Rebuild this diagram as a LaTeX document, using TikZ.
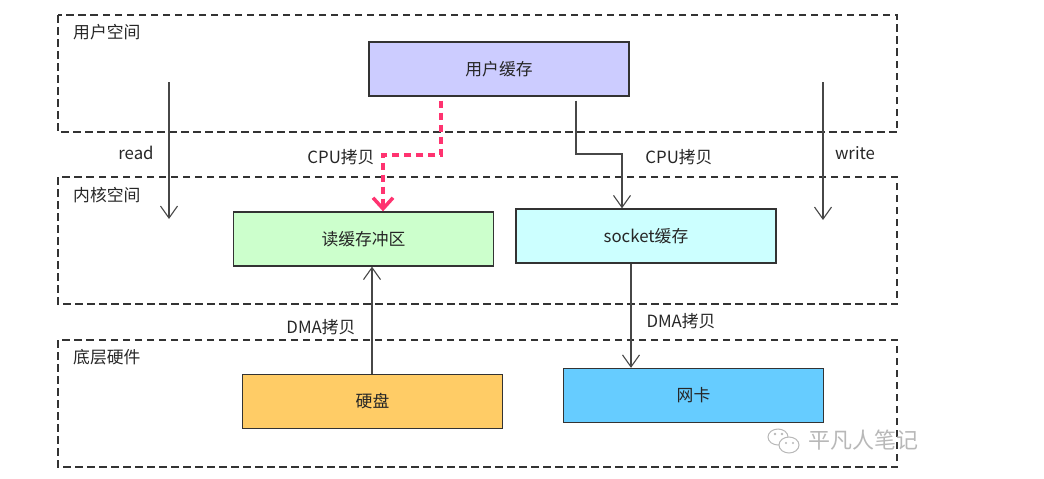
\documentclass[tikz,border=0pt]{standalone}
\usepackage{fontspec}
\setmainfont{Noto Sans CJK SC}
\usetikzlibrary{arrows.meta,calc}
\definecolor{ucol}{HTML}{CCCCFF}
\definecolor{rcol}{HTML}{CCFFCC}
\definecolor{scol}{HTML}{CCFFFF}
\definecolor{hcol}{HTML}{FFCC66}
\definecolor{ncol}{HTML}{66CCFF}
\definecolor{pink}{HTML}{FF3370}
\definecolor{linec}{HTML}{333333}
\definecolor{wm}{HTML}{B8B8B8}
\tikzset{
  region/.style={draw=linec, line width=1.3pt, dash pattern=on 7.5pt off 4.5pt},
  box/.style={draw=linec, line width=1.3pt, minimum width=260pt, minimum height=54pt, inner sep=0pt, font=\fontsize{16.8pt}{20pt}\selectfont, text=black!85},
  lbl/.style={inner sep=0pt, font=\fontsize{16.8pt}{20pt}\selectfont, text=black!85},
  conn/.style={draw=linec!90, line width=1.1pt, -{Straight Barb[length=12pt,width=17pt,line width=1.1pt]}},
  redconn/.style={draw=pink, line width=3.5pt, dash pattern=on 7pt off 5pt, -{Straight Barb[length=11pt,width=20pt,line width=3.5pt]}},
}
\begin{document}
\begin{tikzpicture}[x=1pt,y=-1pt]
\useasboundingbox (0,0) rectangle (1044,479);
% regions
\draw[region] (58,15) rectangle (897,132);
\draw[region] (58,177) rectangle (897,304);
\draw[region] (58,340) rectangle (897,467);
\node[lbl, anchor=west] (lu) at (73,32) {用户空间};
\node[lbl, anchor=west] (lk) at (73,195) {内核空间};
\node[lbl, anchor=west] (lh) at (73,357) {底层硬件};
% boxes
\node[box, fill=ucol] (ucache) at (499,69) {用户缓存};
\node[box, fill=rcol] (rbuf) at (363.5,239) {读缓存冲区};
\node[box, fill=scol] (sbuf) at (646,236) {socket缓存};
\node[box, fill=hcol] (disk) at (372.5,401.5) {硬盘};
\node[box, fill=ncol] (nic) at (693.5,395.5) {网卡};
% read / write
\coordinate (rs) at (169,82);
\coordinate (re) at (169,219);
\coordinate (ws) at (823,82);
\coordinate (we) at (823,220);
\draw[conn] (rs) -- (re);
\draw[conn] (ws) -- (we);
\node[lbl] (lread) at (136,153) {read};
\node[lbl] (lwrite) at (855,153) {write};
% red CPU copy
\coordinate (p1) at (441,0);
\coordinate (p2) at (383,155);
\draw[redconn, shorten <=4pt] (ucache.south -| p1) |- (p2) -- (rbuf.north -| p2);
\node[lbl] (lcpu1) at (341,157) {CPU拷贝};
% black CPU copy
\coordinate (q1) at (576,0);
\coordinate (q2) at (622,154);
\draw[conn, shorten <=4pt] (ucache.south -| q1) |- (q2) -- (sbuf.north -| q2);
\node[lbl] (lcpu2) at (679,157) {CPU拷贝};
% DMA
\coordinate (d1) at (372,0);
\draw[conn] (disk.north -| d1) -- (rbuf.south -| d1);
\node[lbl] (ldma1) at (321,327) {DMA拷贝};
\coordinate (d2) at (631,0);
\draw[conn] (sbuf.south -| d2) -- (nic.north -| d2);
\node[lbl] (ldma2) at (681,321) {DMA拷贝};
% watermark
\begin{scope}[draw=wm, line width=1pt]
\draw (778,437) ellipse (10pt and 8pt);
\draw[fill=white] (789,445) ellipse (10pt and 8pt);
\fill[wm] (775,434) circle (1.3pt) (782,434) circle (1.3pt);
\fill[wm] (786,443) circle (1.2pt) (793,443) circle (1.2pt);
\end{scope}
\node[inner sep=0pt, anchor=west, text=wm, font=\fontsize{22pt}{24pt}\selectfont] (wmk) at (808,440) {平凡人笔记};
\end{tikzpicture}
\end{document}
